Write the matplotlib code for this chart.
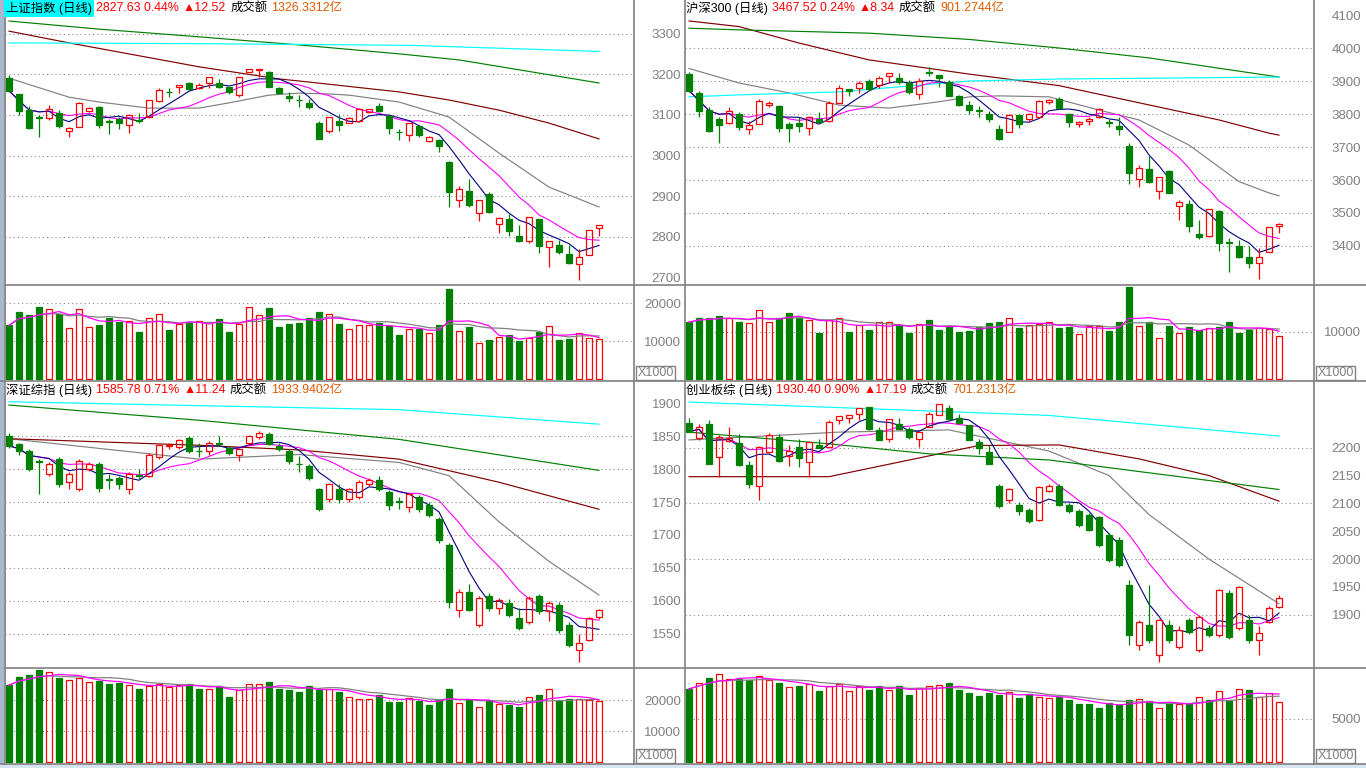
import numpy as np
import pandas as pd
import matplotlib
matplotlib.use("Agg")
import matplotlib.pyplot as plt
from matplotlib.patches import Rectangle
from matplotlib.lines import Line2D

plt.rcParams['font.family'] = ['Liberation Sans', 'Noto Sans CJK SC', 'DejaVu Sans']

W, H = 1366, 768
RED, GREEN, GRAY = '#ff0000', '#008000', '#808080'

# ---------------- 上证指数 ----------------
sh_open = [3191, 3152, 3112, 3095, 3093, 3106, 3061, 3070, 3111, 3119, 3084, 3089, 3075, 3087, 3094,
           3134, 3158, 3168, 3180, 3166, 3178, 3180, 3170, 3150, 3205, 3212, 3206, 3166, 3148, 3138,
           3130, 3081, 3061, 3085, 3081, 3086, 3107, 3122, 3098, 3059, 3051, 3073, 3037, 3038, 2985,
           2889, 2912, 2857, 2905, 2830, 2843, 2802, 2789, 2843, 2775, 2779, 2757, 2731, 2754, 2820]
sh_high = [3199, 3152, 3121, 3100, 3125, 3112, 3071, 3133, 3119, 3122, 3089, 3096, 3102, 3104, 3137,
           3166, 3166, 3174, 3182, 3180, 3193, 3188, 3170, 3195, 3214, 3214, 3208, 3170, 3158, 3149,
           3139, 3085, 3094, 3102, 3094, 3117, 3116, 3130, 3102, 3065, 3080, 3073, 3049, 3040, 2987,
           2925, 2942, 2890, 2909, 2849, 2856, 2828, 2848, 2844, 2789, 2791, 2779, 2769, 2815, 2828]
sh_low = [3156, 3100, 3065, 3045, 3088, 3067, 3046, 3070, 3108, 3067, 3053, 3065, 3055, 3080, 3092,
          3133, 3145, 3155, 3162, 3163, 3166, 3167, 3151, 3145, 3205, 3193, 3170, 3154, 3133, 3120,
          3114, 3041, 3056, 3060, 3080, 3083, 3104, 3108, 3053, 3038, 3037, 3046, 3034, 3009, 2874,
          2874, 2874, 2839, 2859, 2808, 2802, 2786, 2785, 2760, 2725, 2757, 2732, 2693, 2754, 2801]
sh_close = [3160, 3111, 3067, 3093, 3116, 3074, 3067, 3129, 3117, 3075, 3083, 3081, 3099, 3085, 3137,
            3162, 3156, 3174, 3165, 3174, 3193, 3170, 3156, 3193, 3214, 3213, 3170, 3154, 3143, 3137,
            3120, 3041, 3094, 3075, 3092, 3114, 3114, 3110, 3069, 3058, 3080, 3051, 3045, 3024, 2911,
            2917, 2878, 2890, 2861, 2846, 2814, 2790, 2848, 2777, 2789, 2763, 2735, 2749, 2815, 2828]
sh_vol = [14100, 17700, 16800, 19000, 18300, 17000, 13400, 18300, 13700, 14100, 16100, 14900, 15300, 12500, 16100,
          17200, 12900, 14400, 14700, 15300, 15100, 15800, 12500, 14600, 19000, 16900, 18600, 13800, 14600, 14800,
          16100, 17700, 17000, 14400, 13100, 14300, 14100, 14800, 14000, 11700, 13200, 13200, 12100, 14100, 23800,
          12700, 13800, 9500, 10300, 11100, 11600, 10100, 10800, 12300, 14000, 10300, 10600, 12100, 10900, 10500]
sh_ma20_idx = [0, 6, 9, 14, 19, 22, 26, 29, 32, 34, 39, 44, 49, 54, 59]
sh_ma20 = [3191, 3144, 3132, 3117, 3117, 3130, 3149, 3154, 3152, 3149, 3132, 3095, 3006, 2922, 2873]
sh_ma60_idx = [0, 6, 19, 27, 29, 39, 44, 49, 54, 59]
sh_ma60 = [3307, 3278, 3219, 3189, 3184, 3157, 3137, 3112, 3080, 3041]
sh_ma120_idx = [0, 9, 19, 29, 39, 45, 59]
sh_ma120 = [3332, 3312, 3293, 3273, 3251, 3236, 3179]
sh_ma250_idx = [0, 20, 40, 59]
sh_ma250 = [3278, 3276, 3272, 3257]

# ---------------- 沪深300 ----------------
hs_open = [3921, 3865, 3812, 3784, 3774, 3800, 3754, 3770, 3828, 3824, 3770, 3772, 3757, 3784, 3780,
           3832, 3875, 3880, 3901, 3888, 3916, 3908, 3895, 3860, 3926, 3918, 3898, 3855, 3827, 3812,
           3800, 3754, 3746, 3797, 3785, 3790, 3835, 3846, 3800, 3769, 3780, 3790, 3775, 3764, 3703,
           3602, 3632, 3568, 3627, 3521, 3527, 3436, 3431, 3506, 3411, 3400, 3368, 3348, 3381, 3462]
hs_high = [3928, 3871, 3820, 3790, 3820, 3805, 3779, 3845, 3840, 3827, 3777, 3790, 3794, 3805, 3838,
           3888, 3875, 3899, 3907, 3915, 3923, 3923, 3903, 3908, 3941, 3918, 3902, 3858, 3840, 3825,
           3810, 3767, 3800, 3800, 3802, 3842, 3845, 3852, 3802, 3780, 3790, 3818, 3785, 3790, 3713,
           3645, 3673, 3608, 3630, 3539, 3539, 3479, 3511, 3509, 3423, 3418, 3400, 3393, 3459, 3470]
hs_low = [3868, 3792, 3746, 3711, 3770, 3752, 3739, 3770, 3822, 3746, 3716, 3746, 3736, 3775, 3777,
          3832, 3854, 3863, 3872, 3880, 3895, 3891, 3861, 3845, 3915, 3883, 3855, 3824, 3800, 3790,
          3775, 3721, 3744, 3758, 3780, 3788, 3830, 3815, 3762, 3760, 3768, 3788, 3762, 3736, 3587,
          3580, 3592, 3542, 3562, 3479, 3443, 3420, 3428, 3385, 3322, 3363, 3334, 3299, 3381, 3440]
hs_close = [3871, 3810, 3749, 3767, 3810, 3762, 3767, 3840, 3832, 3757, 3757, 3764, 3792, 3777, 3832,
            3878, 3871, 3893, 3875, 3908, 3923, 3896, 3866, 3901, 3924, 3908, 3855, 3827, 3812, 3808,
            3785, 3724, 3797, 3770, 3800, 3840, 3842, 3818, 3776, 3777, 3785, 3815, 3773, 3755, 3622,
            3635, 3595, 3608, 3562, 3532, 3462, 3426, 3511, 3410, 3409, 3368, 3348, 3368, 3459, 3468]
hs_vol = [12100, 13000, 13000, 13400, 13000, 12100, 11900, 14700, 12100, 13000, 14000, 13000, 12600, 9800, 12600,
          13000, 10000, 11500, 10400, 12100, 12100, 11500, 9800, 11700, 12600, 10400, 11300, 10000, 10200, 11100,
          11900, 12100, 13000, 10900, 11500, 11700, 12100, 10900, 11100, 9600, 11300, 11300, 10200, 12100, 19600,
          11300, 12100, 8700, 11300, 9800, 11100, 10400, 10900, 11100, 12100, 9800, 10400, 10900, 10600, 9100]
hs_ma20_idx = [0, 5, 10, 15, 20, 25, 28, 31, 36, 41, 45, 50, 55, 58, 59]
hs_ma20 = [3938, 3894, 3864, 3827, 3818, 3837, 3852, 3855, 3852, 3812, 3782, 3706, 3595, 3561, 3552]
hs_ma60_idx = [0, 5, 11, 18, 28, 37, 53, 58, 59]
hs_ma60 = [4082, 4065, 4015, 3964, 3921, 3886, 3782, 3742, 3736]
hs_ma120_idx = [0, 5, 18, 28, 37, 46, 59]
hs_ma120 = [4060, 4055, 4045, 4026, 4000, 3970, 3912]
hs_ma250_idx = [0, 5, 15, 28, 37, 59]
hs_ma250 = [3852, 3858, 3867, 3900, 3906, 3912]

# ---------------- 深证综指 ----------------
sz_open = [1850, 1838, 1827, 1812, 1792, 1815, 1780, 1769, 1800, 1807, 1785, 1787, 1769, 1791, 1790,
           1818, 1835, 1833, 1847, 1828, 1827, 1840, 1832, 1821, 1839, 1848, 1853, 1835, 1827, 1808,
           1804, 1769, 1754, 1769, 1754, 1758, 1777, 1784, 1765, 1751, 1742, 1757, 1746, 1724, 1685,
           1586, 1614, 1564, 1608, 1590, 1597, 1574, 1568, 1608, 1584, 1594, 1564, 1526, 1541, 1575]
sz_high = [1855, 1840, 1830, 1815, 1810, 1818, 1795, 1815, 1810, 1810, 1792, 1790, 1796, 1800, 1824,
           1838, 1840, 1846, 1850, 1840, 1842, 1850, 1835, 1832, 1852, 1857, 1856, 1840, 1830, 1820,
           1808, 1772, 1779, 1777, 1772, 1784, 1786, 1790, 1768, 1758, 1764, 1760, 1750, 1728, 1688,
           1618, 1625, 1607, 1612, 1605, 1603, 1590, 1607, 1610, 1600, 1598, 1568, 1550, 1576, 1588]
sz_low = [1832, 1822, 1797, 1762, 1789, 1773, 1769, 1767, 1797, 1765, 1770, 1770, 1762, 1785, 1788,
          1815, 1830, 1830, 1825, 1818, 1822, 1835, 1822, 1812, 1836, 1845, 1836, 1828, 1808, 1795,
          1783, 1736, 1750, 1748, 1750, 1755, 1775, 1766, 1738, 1740, 1735, 1735, 1728, 1688, 1590,
          1575, 1584, 1560, 1585, 1580, 1575, 1556, 1565, 1580, 1570, 1552, 1530, 1508, 1540, 1573]
sz_close = [1835, 1827, 1800, 1811, 1807, 1777, 1792, 1812, 1807, 1772, 1784, 1777, 1792, 1790, 1822,
            1836, 1836, 1844, 1827, 1827, 1840, 1838, 1825, 1830, 1850, 1855, 1838, 1830, 1812, 1807,
            1787, 1739, 1777, 1754, 1769, 1781, 1784, 1769, 1746, 1750, 1762, 1739, 1731, 1693, 1599,
            1614, 1587, 1605, 1590, 1602, 1579, 1559, 1605, 1584, 1597, 1556, 1533, 1536, 1574, 1586]
sz_vol = [24800, 27400, 28100, 29700, 29000, 27100, 26500, 27100, 25800, 26100, 25200, 25500, 24800, 23500, 24500,
          25200, 24200, 24800, 25200, 23500, 23500, 24500, 21000, 23200, 25200, 25200, 25800, 23500, 23200, 22600,
          24500, 23200, 23500, 22600, 21000, 20300, 20300, 21600, 19400, 19400, 20600, 19700, 18400, 20000, 23500,
          19000, 20000, 17700, 19700, 18700, 18400, 17700, 21000, 21600, 23500, 19700, 20300, 20300, 20000, 19700]
sz_ma20_idx = [0, 19, 29, 39, 44, 49, 54, 59]
sz_ma20 = [1846, 1815, 1822, 1810, 1790, 1720, 1660, 1609]
sz_ma60_idx = [0, 19, 29, 39, 49, 59]
sz_ma60 = [1846, 1836, 1829, 1815, 1780, 1739]
sz_ma120_idx = [0, 19, 39, 59]
sz_ma120 = [1897, 1874, 1845, 1798]
sz_ma250_idx = [0, 39, 59]
sz_ma250 = [1902, 1890, 1868]

# ---------------- 创业板综 ----------------
cy_open = [2244, 2217, 2243, 2183, 2212, 2208, 2169, 2132, 2192, 2220, 2186, 2201, 2174, 2204, 2201,
           2250, 2254, 2260, 2273, 2231, 2216, 2242, 2234, 2216, 2238, 2258, 2271, 2254, 2240, 2210,
           2192, 2132, 2107, 2098, 2089, 2071, 2122, 2132, 2098, 2086, 2080, 2075, 2044, 2035, 1954,
           1846, 1882, 1828, 1882, 1842, 1891, 1837, 1877, 1864, 1940, 1877, 1891, 1855, 1887, 1914]
cy_high = [2254, 2243, 2249, 2222, 2238, 2225, 2176, 2203, 2226, 2225, 2204, 2216, 2210, 2216, 2249,
           2257, 2258, 2271, 2273, 2237, 2251, 2254, 2237, 2228, 2264, 2279, 2277, 2260, 2240, 2216,
           2204, 2135, 2128, 2102, 2092, 2131, 2134, 2135, 2100, 2090, 2083, 2078, 2047, 2040, 1963,
           1890, 1954, 1893, 1890, 1880, 1895, 1900, 1882, 1947, 1945, 1952, 1900, 1880, 1916, 1935]
cy_low = [2228, 2213, 2171, 2147, 2210, 2168, 2128, 2107, 2190, 2175, 2168, 2166, 2147, 2200, 2200,
          2243, 2244, 2250, 2232, 2213, 2211, 2233, 2216, 2201, 2237, 2258, 2250, 2245, 2213, 2189,
          2171, 2092, 2100, 2080, 2064, 2068, 2120, 2095, 2082, 2058, 2050, 2022, 1995, 1985, 1845,
          1837, 1850, 1815, 1850, 1838, 1865, 1833, 1860, 1860, 1856, 1872, 1850, 1828, 1885, 1912]
cy_close = [2229, 2237, 2171, 2219, 2217, 2169, 2134, 2201, 2222, 2177, 2195, 2182, 2210, 2200, 2247,
            2257, 2258, 2271, 2233, 2214, 2251, 2234, 2220, 2228, 2261, 2278, 2252, 2245, 2213, 2199,
            2171, 2095, 2125, 2086, 2068, 2129, 2131, 2098, 2086, 2062, 2053, 2026, 1999, 1990, 1864,
            1887, 1855, 1891, 1855, 1873, 1869, 1896, 1864, 1945, 1860, 1950, 1855, 1868, 1913, 1930]
cy_vol = [8500, 9200, 9800, 10200, 9700, 9700, 9500, 10000, 9500, 9200, 8700, 8800, 9100, 8300, 8800,
          9100, 8300, 8800, 8400, 8800, 8400, 8800, 7800, 8600, 8800, 9000, 9200, 8400, 8000, 7700,
          8000, 7800, 8100, 7400, 7900, 7600, 7400, 7600, 7200, 6700, 6700, 6300, 6900, 6600, 7200,
          7300, 7100, 6300, 6900, 6700, 6700, 7600, 7200, 8300, 7200, 8500, 8400, 7600, 8000, 7000]
cy_ma20_idx = [0, 15, 26, 36, 42, 46, 52, 59]
cy_ma20 = [2214, 2228, 2232, 2194, 2150, 2080, 2000, 1920]
cy_ma60_idx = [0, 14, 29, 37, 45, 52, 59]
cy_ma60 = [2148, 2148, 2204, 2205, 2180, 2150, 2104]
cy_ma120_idx = [0, 14, 24, 36, 59]
cy_ma120 = [2228, 2207, 2189, 2178, 2125]
cy_ma250_idx = [0, 36, 59]
cy_ma250 = [2282, 2258, 2221]


def add_ax(fig, x0, y0, x1, y1):
    ax = fig.add_axes([x0 / W, 1 - y1 / H, (x1 - x0) / W, (y1 - y0) / H])
    ax.set_facecolor('white')
    for s in ax.spines.values():
        s.set_visible(False)
    ax.set_xticks([])
    ax.set_xlim(-0.4, 62.5)
    return ax


def right_labels(ax, ticks, labels):
    ax.yaxis.tick_right()
    ax.set_yticks(ticks)
    ax.set_yticklabels(labels, ha='right')
    ax.tick_params(axis='y', length=0, pad=34, labelsize=9.5, labelcolor=GRAY)


def dotted(ax, vals):
    for v in vals:
        ax.axhline(v, color=GRAY, lw=0.75, ls=(0, (1, 3)), zorder=1)


def draw_panel(fig, x0, y0, ymid, y1, o, h, l, c, vol, lines, plim, pticks, pgrid, vlim, vticks):
    x1 = x0 + 629
    axp = add_ax(fig, x0, y0, x1, ymid)
    axp.set_ylim(*plim)
    right_labels(axp, pticks, [str(t) for t in pticks])
    dotted(axp, pgrid)

    # 均线: MA5 / MA10 from closes, longer ones
    close = pd.Series(c)
    ma5 = close.rolling(5, min_periods=1).mean()
    ma10 = close.rolling(10, min_periods=1).mean()
    for (idx, vals), col in zip(lines, ['#808080', '#800000', '#008000', '#00ffff']):
        axp.plot(idx, vals, color=col, lw=0.85, zorder=2)
    axp.plot(range(len(c)), ma10, color='#ff00ff', lw=0.8, zorder=2)
    axp.plot(range(len(c)), ma5, color='#000080', lw=0.8, zorder=2)

    bw = 0.62
    for i in range(len(o)):
        if c[i] >= o[i]:
            axp.add_patch(Rectangle((i - bw / 2, o[i]), bw, c[i] - o[i], fill=False, ec=RED, lw=0.9, zorder=3))
            axp.vlines(i, c[i], h[i], color=RED, lw=0.9, zorder=3)
            axp.vlines(i, l[i], o[i], color=RED, lw=0.9, zorder=3)
        else:
            axp.vlines(i, l[i], h[i], color=GREEN, lw=0.9, zorder=3)
            axp.add_patch(Rectangle((i - bw / 2, c[i]), bw, o[i] - c[i], fc=GREEN, ec=GREEN, lw=0.9, zorder=3))

    # 成交量
    axv = add_ax(fig, x0, ymid, x1, y1)
    axv.set_ylim(*vlim)
    right_labels(axv, vticks, [str(t) for t in vticks])
    dotted(axv, vticks)
    vw = 0.6
    for i in range(len(vol)):
        if c[i] >= o[i]:
            axv.add_patch(Rectangle((i - vw / 2, 0), vw, vol[i], fill=False, ec=RED, lw=0.9, zorder=3))
        else:
            axv.add_patch(Rectangle((i - vw / 2, 0), vw, vol[i], fc=GREEN, ec=GREEN, lw=0.9, zorder=3))
    v = pd.Series(vol)
    axv.plot(range(len(vol)), v.rolling(10, min_periods=1).mean(), color=GRAY, lw=0.9, zorder=4)
    axv.plot(range(len(vol)), v.rolling(5, min_periods=1).mean(), color='#ff00ff', lw=0.9, zorder=4)


def title(fig, x, y, parts, cyan=False):
    r = fig.canvas.get_renderer()
    for k, (s, col) in enumerate(parts):
        kw = {}
        if cyan and k == 0:
            kw['bbox'] = dict(facecolor='#00ffff', edgecolor='none', pad=1.5)
        t = fig.text(x / W, 1 - y / H, s, color=col, fontsize=8.9, va='center', ha='left', **kw)
        x = t.get_window_extent(renderer=r).x1 + 4


def fline(fig, xs, ys, col=GRAY, lw=1.2):
    fig.add_artist(Line2D([x / W for x in xs], [1 - y / H for y in ys], color=col, lw=lw,
                          transform=fig.transFigure))


fig = plt.figure(figsize=(W / 100, H / 100), dpi=100)
fig.patch.set_facecolor('white')

draw_panel(fig, 5, 0, 285, 381, sh_open, sh_high, sh_low, sh_close, sh_vol,
           [(sh_ma20_idx, sh_ma20), (sh_ma60_idx, sh_ma60), (sh_ma120_idx, sh_ma120), (sh_ma250_idx, sh_ma250)],
           (2680.3, 3383.9), [2700, 2800, 2900, 3000, 3100, 3200, 3300], [2800, 2900, 3000, 3100, 3200, 3300],
           (-526, 24737), [10000, 20000])
draw_panel(fig, 685, 0, 285, 381, hs_open, hs_high, hs_low, hs_close, hs_vol,
           [(hs_ma20_idx, hs_ma20), (hs_ma60_idx, hs_ma60), (hs_ma120_idx, hs_ma120), (hs_ma250_idx, hs_ma250)],
           (3281.8, 4145.5), [3400, 3500, 3600, 3700, 3800, 3900, 4000, 4100],
           [3400, 3500, 3600, 3700, 3800, 3900, 4000],
           (-426, 20000), [10000])
draw_panel(fig, 5, 381, 668, 764, sz_open, sz_high, sz_low, sz_close, sz_vol,
           [(sz_ma20_idx, sz_ma20), (sz_ma60_idx, sz_ma60), (sz_ma120_idx, sz_ma120), (sz_ma250_idx, sz_ma250)],
           (1498.3, 1933.5), [1550, 1600, 1650, 1700, 1750, 1800, 1850, 1900],
           [1550, 1600, 1650, 1700, 1750, 1800, 1850],
           (-645, 30323), [10000, 20000])
draw_panel(fig, 685, 381, 668, 764, cy_open, cy_high, cy_low, cy_close, cy_vol,
           [(cy_ma20_idx, cy_ma20), (cy_ma60_idx, cy_ma60), (cy_ma120_idx, cy_ma120), (cy_ma250_idx, cy_ma250)],
           (1804.5, 2319.8), [1900, 1950, 2000, 2050, 2100, 2150, 2200], [1900, 2000, 2100, 2200],
           (-233, 10930), [5000])

ORANGE = '#e05a00'
title(fig, 6, 8, [('上证指数 (日线)', 'black'), ('2827.63 0.44%', RED), ('▲12.52', RED),
                  ('成交额', 'black'), ('1326.3312亿', ORANGE)], cyan=True)
title(fig, 686, 8, [('沪深300 (日线)', 'black'), ('3467.52 0.24%', RED), ('▲8.34', RED),
                    ('成交额', 'black'), ('901.2744亿', ORANGE)])
title(fig, 6, 390, [('深证综指 (日线)', 'black'), ('1585.78 0.71%', RED), ('▲11.24', RED),
                    ('成交额', 'black'), ('1933.9402亿', ORANGE)])
title(fig, 686, 390, [('创业板综 (日线)', 'black'), ('1930.40 0.90%', RED), ('▲17.19', RED),
                      ('成交额', 'black'), ('701.2313亿', ORANGE)])

# frame lines
for x in (634, 685, 1314):
    fline(fig, [x, x], [0, 764])
fline(fig, [5, 5], [0, 764], col='#909090', lw=1.5)
for y in (285, 668):
    fline(fig, [5, 1366], [y, y])
for y in (381, 764):
    fline(fig, [0, 1366], [y, y])
fig.add_artist(Rectangle((0, 0), 3 / W, 1, color='#a8b8d0', transform=fig.transFigure))
fig.add_artist(Rectangle((0, 0), 1, 4 / H, color='#d6e4f2', transform=fig.transFigure))

# X1000 boxes
for bx, by in ((636, 366), (1316, 366), (636, 749), (1316, 749)):
    fig.add_artist(Rectangle((bx / W, 1 - (by + 14) / H), 39 / W, 14 / H, fill=False, ec=GRAY, lw=1,
                             transform=fig.transFigure))
    fig.text((bx + 2) / W, 1 - (by + 7) / H, 'X1000', color=GRAY, fontsize=9, va='center', ha='left')

fig.savefig('out.png', dpi=100, facecolor='white')
